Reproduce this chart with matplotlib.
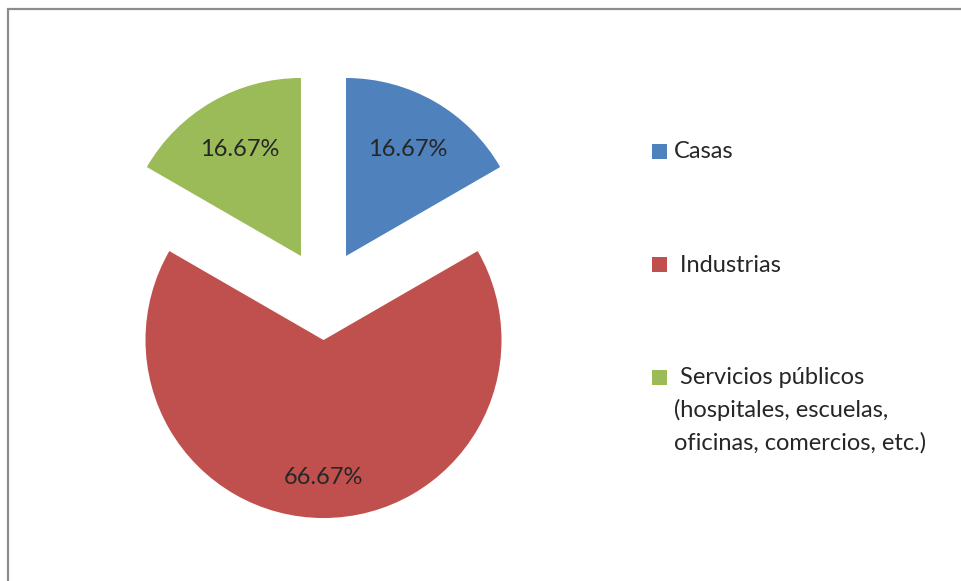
import numpy as np
import matplotlib.pyplot as plt
from matplotlib.patches import Rectangle

# data
categories = ["Casas", " Industrias",
              " Servicios públicos\n(hospitales, escuelas,\noficinas, comercios, etc.)"]
pct = [16.67, 66.67, 16.67]
colors = ["#4F81BD", "#C0504D", "#9BBB59"]

plt.rcParams['font.family'] = ['Lato', 'DejaVu Sans']

W, H = 961, 581
fig = plt.figure(figsize=(W / 100, H / 100), dpi=100, facecolor="white")

# pie axes: radius 1 = 178 px, pie center at (323.5, 295) px from top-left
R = 178.0
half = 1.6
cx, cy = 323.5, 295
side = 2 * half * R
ax = fig.add_axes([(cx - side / 2) / W, (H - cy - side / 2) / H, side / W, side / H])

fmt = iter(f"{v:.2f}%" for v in pct)
wedges, texts, autotexts = ax.pie(pct, colors=colors, startangle=90, counterclock=False,
                                  explode=[0.253] * len(pct), radius=1,
                                  autopct=lambda p: next(fmt), pctdistance=0.7,
                                  textprops=dict(fontsize=17, color="#262626"),
                                  wedgeprops=dict(linewidth=0))
# excel puts the label of the big slice a bit further out
label_dist = [0.69, 0.77, 0.69]
for w, t, d in zip(wedges, autotexts, label_dist):
    th = np.deg2rad((w.theta1 + w.theta2) / 2)
    t.set_position((w.center[0] + d * w.r * np.cos(th), w.center[1] + d * w.r * np.sin(th)))

ax.set_xlim(-half, half)
ax.set_ylim(-half, half)
ax.set_aspect('equal')
ax.axis('off')

# legend drawn by hand (squares aligned with first text line)
leg_y = [151.5, 264.5, 377.5]
for lab, col, y in zip(categories, colors, leg_y):
    fig.add_artist(Rectangle((652 / W, (H - y - 7.5) / H), 15 / W, 15 / H,
                             transform=fig.transFigure, facecolor=col, edgecolor='none'))
    fig.text(674 / W, (H - y + 10) / H, lab, fontsize=17, color="#262626",
             ha='left', va='top', linespacing=1.6)

# chart frame (only left and top edges visible)
fig.add_artist(Rectangle((8 / W, -0.2), 1.2, 1.2 - 8.5 / H, transform=fig.transFigure,
                         fill=False, edgecolor="#8c8c8c", linewidth=1.6))

fig.savefig("out.png", dpi=100, facecolor="white")
